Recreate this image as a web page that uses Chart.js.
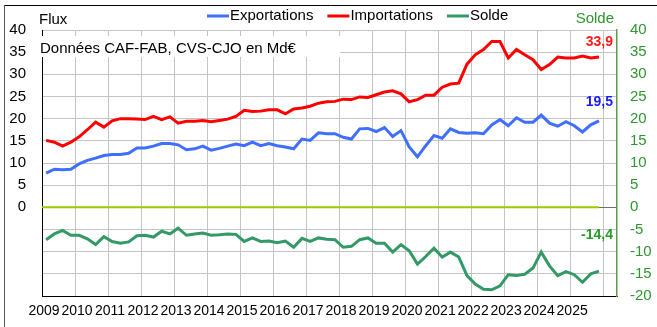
<!DOCTYPE html>
<html lang="fr">
<head>
<meta charset="utf-8">
<title>Flux</title>
<script src="https://cdn.jsdelivr.net/npm/chart.js@4/dist/chart.umd.min.js"></script>
<style>
  html, body { margin: 0; padding: 0; background: #fff; }
  #wrap { width: 657px; height: 327px; }
</style>
</head>
<body>
<div id="wrap"><canvas id="flux" width="657" height="327"></canvas></div>
<script>
// Quarterly trade flows, 2009T1 .. 2025T4 (Md€)
const firstYear = 2009;
const lastYear = 2025;
const quarters = [];
for (let y = firstYear; y <= lastYear; y++) {
  for (let q = 1; q <= 4; q++) quarters.push(y + 'T' + q);
}

const exportations = [
  7.7, 8.6, 8.5, 8.6,   9.8, 10.6, 11.1, 11.7,  11.9, 11.9, 12.2, 13.4,
  13.4, 13.8, 14.4, 14.4,  14.1, 13.0, 13.2, 13.8,  12.9, 13.3, 13.8, 14.3,
  13.9, 14.7, 13.9, 14.4,  13.9, 13.6, 13.2, 15.4,  15.1, 16.8, 16.6, 16.6,
  15.8, 15.4, 17.7, 17.8,  17.1, 18.0, 16.0, 17.3,  13.6, 11.4, 13.9, 16.2,
  15.6, 17.7, 16.9, 16.7,  16.8, 16.6, 18.6, 19.8,  18.4, 20.2, 19.2, 19.2,
  20.8, 19.0, 18.3, 19.3,  18.4, 17.0, 18.6, 19.5
];
const importations = [
  15.1, 14.7, 13.8, 14.7,  15.9, 17.5, 19.2, 18.1,  19.5, 20.0, 20.0, 19.9,
  19.8, 20.5, 19.8, 20.4,  19.0, 19.4, 19.4, 19.6,  19.3, 19.6, 19.9, 20.5,
  21.9, 21.6, 21.7, 22.0,  22.0, 21.1, 22.2, 22.4,  22.8, 23.5, 23.8, 23.9,
  24.4, 24.3, 24.9, 24.8,  25.4, 26.0, 26.3, 25.6,  23.8, 24.3, 25.3, 25.3,
  27.1, 27.8, 28.0, 32.3,  34.4, 35.6, 37.4, 37.4,  33.7, 35.6, 34.4, 33.3,
  31.1, 32.2, 33.9, 33.7,  33.7, 34.1, 33.7, 33.9
];
const solde = [
  -7.3, -6.0, -5.2, -6.3,  -6.3, -7.1, -8.4, -6.6,  -7.7, -8.1, -7.8, -6.4,
  -6.3, -6.7, -5.4, -6.0,  -4.7, -6.3, -6.0, -5.8,  -6.3, -6.2, -6.0, -6.1,
  -7.7, -6.9, -7.7, -7.6,  -8.0, -7.6, -9.0, -7.0,  -7.7, -6.9, -7.2, -7.3,
  -9.0, -8.8, -7.3, -6.9,  -8.1, -8.1, -10.1, -8.4,  -9.8, -12.8, -11.1, -9.2,
  -11.2, -10.1, -11.2, -15.4,  -17.3, -18.5, -18.6, -17.7,  -15.2, -15.4, -15.1, -13.7,
  -10.1, -13.2, -15.4, -14.5,  -15.2, -16.9, -15.0, -14.4
];

const Y_MIN = -20, Y_MAX = 40, Y_STEP = 5;
const X_MIN = firstYear, X_MAX = 2026.42;

const FONT = "'Liberation Sans', Arial, sans-serif";
const GREEN_AXIS = '#2f962f';

// "2011T3" -> 2011.625 (middle of the quarter)
function quarterX(label) {
  const [y, q] = label.split('T');
  return Number(y) + (Number(q) - 0.5) / 4;
}

function toPoints(values) {
  return values.map((v, i) => ({ x: quarterX(quarters[i]), y: v }));
}

function frValue(v) {
  return v.toFixed(1).replace('.', ',');
}

const lastX = quarterX(quarters[quarters.length - 1]);

const datasets = [
  {
    label: 'Exportations',
    data: toPoints(exportations),
    borderColor: '#3f6fff',
    valueLabel: { color: '#1a1aff', dy: -19 }
  },
  {
    label: 'Importations',
    data: toPoints(importations),
    borderColor: '#ff0000',
    valueLabel: { color: '#ff1a1a', dy: -15 }
  },
  {
    label: 'Solde',
    data: toPoints(solde),
    borderColor: '#339966',
    yAxisID: 'y2',
    valueLabel: { color: '#2a9a2a', dy: -36 }
  },
  {
    // zero reference across the data span
    label: '',
    data: [{ x: X_MIN, y: 0 }, { x: lastX, y: 0 }],
    borderColor: '#99cc00',
    borderWidth: 2,
    noLegend: true
  }
];
datasets.forEach(ds => {
  ds.pointRadius = 0;
  ds.tension = 0;
  if (ds.borderWidth === undefined) ds.borderWidth = 3;
});

// outer frame, text box and free-standing labels
const decorPlugin = {
  id: 'decor',
  beforeDraw(chart) {
    const ctx = chart.ctx;
    ctx.save();
    ctx.fillStyle = '#fff';
    ctx.fillRect(0, 0, chart.width, chart.height);
    ctx.lineWidth = 1;
    ctx.strokeStyle = '#000';
    ctx.beginPath();
    ctx.moveTo(4, 5.5);
    ctx.lineTo(chart.width, 5.5);
    ctx.stroke();
    ctx.strokeStyle = '#555';
    ctx.beginPath();
    ctx.moveTo(4.5, 5);
    ctx.lineTo(4.5, chart.height);
    ctx.stroke();
    ctx.restore();
  },
  beforeDatasetsDraw(chart) {
    const ctx = chart.ctx;
    const area = chart.chartArea;
    ctx.save();
    ctx.font = '15px ' + FONT;
    ctx.textBaseline = 'middle';

    // note box sitting over the grid
    ctx.fillStyle = '#fff';
    ctx.fillRect(area.left - 2, 36, 300, 21);
    ctx.fillStyle = '#000';
    ctx.textAlign = 'left';
    ctx.fillText('Données CAF-FAB, CVS-CJO en Md€', area.left - 2, 49);

    // axis titles
    ctx.fillText('Flux', area.left - 3, 20);
    ctx.fillStyle = GREEN_AXIS;
    ctx.textAlign = 'right';
    ctx.fillText('Solde', area.right - 3, 19);

    // legend
    let x = 207;
    ctx.textAlign = 'left';
    chart.data.datasets.forEach(ds => {
      if (ds.noLegend) return;
      ctx.strokeStyle = ds.borderColor;
      ctx.lineWidth = 3;
      ctx.beginPath();
      ctx.moveTo(x, 16);
      ctx.lineTo(x + 22, 16);
      ctx.stroke();
      x += 23;
      ctx.fillStyle = '#000';
      ctx.fillText(ds.label, x, 16);
      x += ctx.measureText(ds.label).width + 14;
    });
    ctx.restore();
  },
  afterDatasetsDraw(chart) {
    const ctx = chart.ctx;
    ctx.save();
    ctx.font = 'bold 14px ' + FONT;
    ctx.textAlign = 'right';
    ctx.textBaseline = 'middle';
    chart.data.datasets.forEach((ds, i) => {
      if (!ds.valueLabel) return;
      const pts = chart.getDatasetMeta(i).data;
      const last = pts[pts.length - 1];
      const v = ds.data[ds.data.length - 1].y;
      ctx.fillStyle = ds.valueLabel.color;
      ctx.fillText(frValue(v), chart.chartArea.right - 4, last.y + ds.valueLabel.dy);
    });
    ctx.restore();
  }
};

new Chart(document.getElementById('flux'), {
  type: 'line',
  data: { datasets },
  options: {
    responsive: false,
    animation: false,
    parsing: true,
    layout: { padding: { top: 30, left: 0, right: 0, bottom: 0 } },
    plugins: {
      legend: { display: false },
      title: { display: false },
      tooltip: { enabled: false }
    },
    scales: {
      x: {
        type: 'linear',
        min: X_MIN,
        max: X_MAX,
        afterFit(scale) { scale.height = 31; },
        afterBuildTicks(scale) {
          const ticks = [];
          for (let y = firstYear; y <= lastYear + 1; y++) ticks.push({ value: y });
          scale.ticks = ticks;
        },
        ticks: {
          autoSkip: false,
          maxRotation: 0,
          padding: 7,
          labelOffset: 2,
          color: '#000',
          font: { family: FONT, size: 14 },
          callback: v => (v <= lastYear ? String(v) : '')
        },
        grid: { color: '#c4c4c4', lineWidth: 1, drawTicks: false },
        border: { color: '#000', width: 1 }
      },
      y: {
        position: 'left',
        min: Y_MIN,
        max: Y_MAX,
        afterFit(scale) { scale.width = 42; },
        ticks: {
          stepSize: Y_STEP,
          padding: 16,
          color: '#000',
          font: { family: FONT, size: 15 },
          callback: v => (v >= 0 ? String(v) : '')
        },
        grid: {
          color: c => (c.tick && c.tick.value === 0 ? '#707070' : '#c4c4c4'),
          lineWidth: 1,
          drawTicks: false
        },
        border: { color: '#000', width: 1 }
      },
      y2: {
        position: 'right',
        min: Y_MIN,
        max: Y_MAX,
        afterFit(scale) { scale.width = 40; },
        ticks: {
          stepSize: Y_STEP,
          padding: 13,
          color: GREEN_AXIS,
          font: { family: FONT, size: 15 },
          callback: v => String(v)
        },
        grid: { drawOnChartArea: false, drawTicks: false },
        border: { color: '#5aa04a', width: 1.5 }
      }
    }
  },
  plugins: [decorPlugin]
});
</script>
</body>
</html>
